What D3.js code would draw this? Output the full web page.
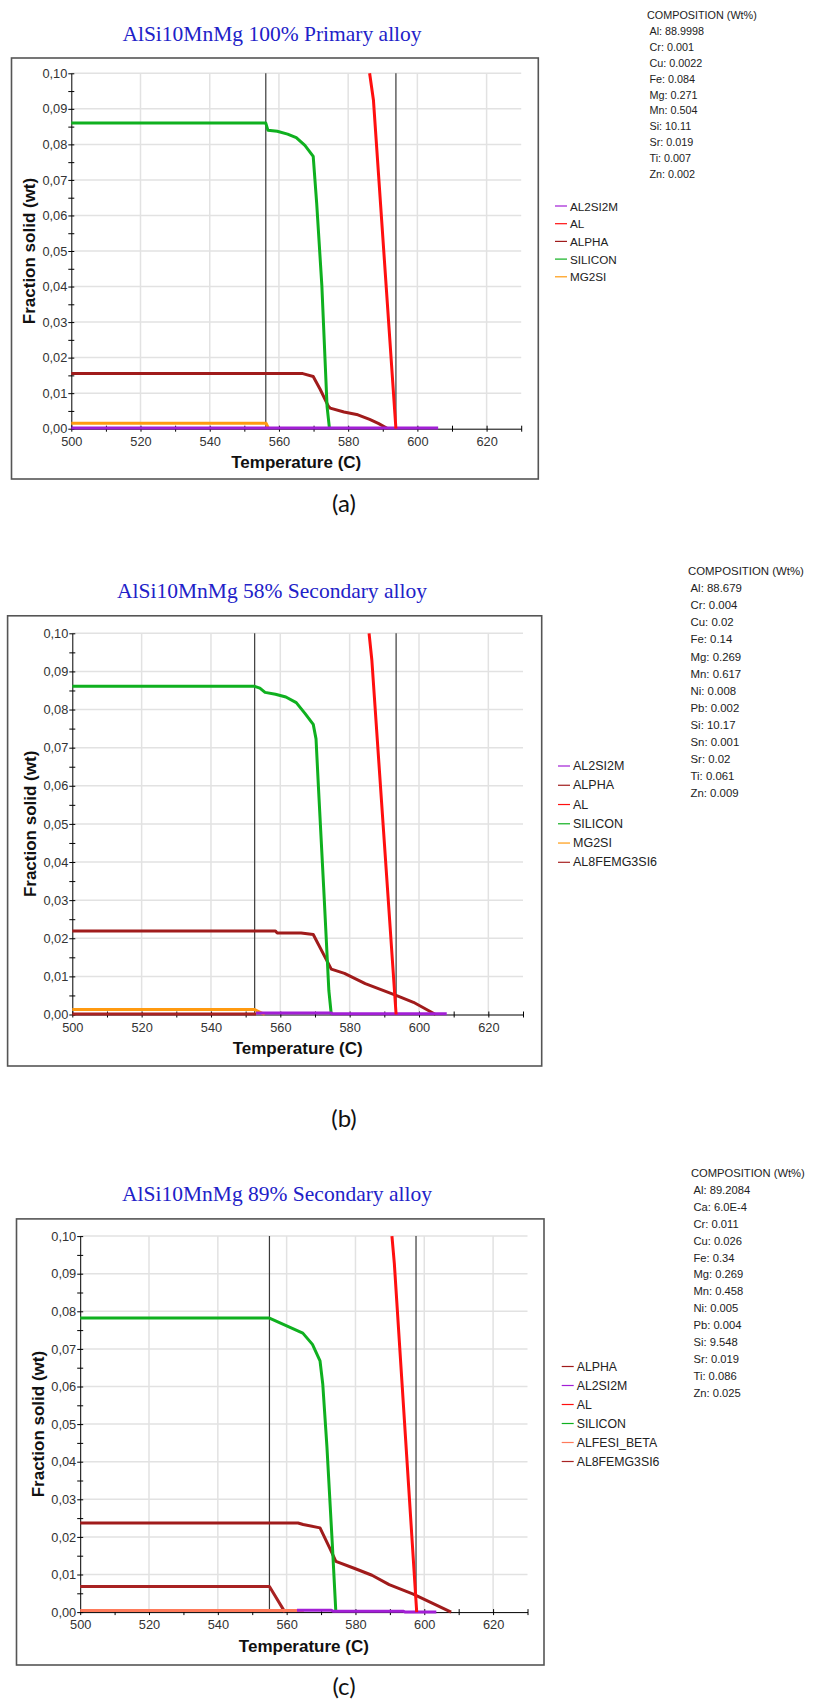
<!DOCTYPE html>
<html>
<head>
<meta charset="utf-8">
<script src="https://cdn.jsdelivr.net/npm/d3@7"></script>
<style>
  body { margin: 0; background: #fff; }
  svg text { font-family: "Liberation Sans", Arial, sans-serif; }
</style>
</head>
<body>
<script>
// ---------- shared axes ----------
var tempTicks = [500, 510, 520, 530, 540, 550, 560, 570, 580, 590, 600, 610, 620, 630];
var tempLabels = ["500", "", "520", "", "540", "", "560", "", "580", "", "600", "", "620", ""];
var fracTicks = [0, 0.005, 0.01, 0.015, 0.02, 0.025, 0.03, 0.035, 0.04, 0.045, 0.05,
                 0.055, 0.06, 0.065, 0.07, 0.075, 0.08, 0.085, 0.09, 0.095, 0.10];
var fracLabels = ["0,00", "", "0,01", "", "0,02", "", "0,03", "", "0,04", "", "0,05",
                  "", "0,06", "", "0,07", "", "0,08", "", "0,09", "", "0,10"];
var gridTemps = [520, 540, 560, 580, 600, 620];
var gridFracs = [0.01, 0.02, 0.03, 0.04, 0.05, 0.06, 0.07, 0.08, 0.09, 0.10];

var phaseColors = {
  AL2SI2M: "#a21fd6",
  AL: "#ff0f0f",
  ALPHA: "#a01b1b",
  SILICON: "#0fb01f",
  MG2SI: "#ff9a10",
  AL8FEMG3SI6: "#a82222",
  ALFESI_BETA: "#ff7a5a"
};

// ---------- (a) 100% primary ----------
var titleA = "AlSi10MnMg 100% Primary alloy";
var legendA = ["AL2SI2M", "AL", "ALPHA", "SILICON", "MG2SI"];
var compA = ["COMPOSITION (Wt%)", "Al: 88.9998", "Cr: 0.001", "Cu: 0.0022", "Fe: 0.084",
             "Mg: 0.271", "Mn: 0.504", "Si: 10.11", "Sr: 0.019", "Ti: 0.007", "Zn: 0.002"];
var markersA = [556.2, 593.8];
var siliconA = [[500, 0.086], [556.2, 0.086], [556.8, 0.084], [559.5, 0.0837], [562.5, 0.0829],
                [565, 0.0819], [567.5, 0.0797], [569.9, 0.0766], [570.9, 0.0635], [572.4, 0.0402],
                [573.9, 0.0063], [574.6, 0]];
var alA = [[586.2, 0.1], [587.3, 0.0925], [593.8, 0]];
var alphaA = [[500, 0.0155], [566.9, 0.0155], [569.9, 0.0147], [571.9, 0.0111], [574.3, 0.0063],
              [574.8, 0.0058], [578.8, 0.0047], [582.8, 0.0039], [586.2, 0.0026], [588.7, 0.0015],
              [591.5, 0]];
var mg2siA = [[500, 0.0015], [556.3, 0.0015], [557, 0]];
var al2si2mA = [[500, 0.0002], [606, 0.0002]];

// ---------- (b) 58% secondary ----------
var titleB = "AlSi10MnMg 58% Secondary alloy";
var legendB = ["AL2SI2M", "ALPHA", "AL", "SILICON", "MG2SI", "AL8FEMG3SI6"];
var compB = ["COMPOSITION (Wt%)", "Al: 88.679", "Cr: 0.004", "Cu: 0.02", "Fe: 0.14", "Mg: 0.269",
             "Mn: 0.617", "Ni: 0.008", "Pb: 0.002", "Si: 10.17", "Sn: 0.001", "Sr: 0.02",
             "Ti: 0.061", "Zn: 0.009"];
var markersB = [552.6, 593.4];
var siliconB = [[500, 0.0861], [552.6, 0.0861], [554.1, 0.0856], [555.6, 0.0845], [558.6, 0.084],
                [561.6, 0.0833], [564.6, 0.0818], [567.1, 0.079], [569.5, 0.0761], [570.3, 0.0723],
                [571, 0.0596], [572.5, 0.0334], [574, 0.0063], [574.7, 0]];
var alB = [[585.6, 0.1], [586.4, 0.093], [593.4, 0]];
var alphaB = [[500, 0.0219], [558.6, 0.0219], [559.1, 0.0214], [566, 0.0214], [569.5, 0.021],
              [573.5, 0.014], [574.7, 0.0119], [578.5, 0.0108], [584.5, 0.0081], [593.4, 0.005],
              [598.4, 0.0032], [604.8, 0]];
var mg2siB = [[500, 0.0013], [552.6, 0.0013], [555.5, 0]];
var al8B = [[500, 0.0001], [553, 0.0001]];
var al2si2mB = [[553, 0.0004], [574.7, 0.0004], [575, 0.0002], [608, 0.0002]];

// ---------- (c) 89% secondary ----------
var titleC = "AlSi10MnMg 89% Secondary alloy";
var legendC = ["ALPHA", "AL2SI2M", "AL", "SILICON", "ALFESI_BETA", "AL8FEMG3SI6"];
var compC = ["COMPOSITION (Wt%)", "Al: 89.2084", "Ca: 6.0E-4", "Cr: 0.011", "Cu: 0.026", "Fe: 0.34",
             "Mg: 0.269", "Mn: 0.458", "Ni: 0.005", "Pb: 0.004", "Si: 9.548", "Sr: 0.019",
             "Ti: 0.086", "Zn: 0.025"];
var markersC = [555.0, 597.6];
var siliconC = [[500, 0.0782], [555, 0.0782], [564.7, 0.0742], [567.5, 0.0712], [569.7, 0.0668],
                [570.5, 0.0606], [571.7, 0.0441], [573.3, 0.0176], [574.3, 0]];
var alC = [[590.6, 0.1], [591.3, 0.0927], [597.8, 0]];
var alphaC = [[500, 0.0237], [563.3, 0.0237], [564.8, 0.0233], [569.7, 0.0224], [572.7, 0.0167],
              [574.3, 0.0135], [579.8, 0.0116], [584.8, 0.0098], [589.8, 0.0073], [596.8, 0.0048],
              [607.8, 0]];
var al8C = [[500, 0.0068], [555, 0.0068], [559.5, 0]];
var alfesiC = [[500, 0.0004], [565, 0.0004]];
var al2si2mC = [[563, 0.0005], [573, 0.0005], [573.5, 0.0002], [594, 0.0002], [594.5, 0], [603.5, 0]];

// ---------- panels (layout only) ----------
var panels = [
  { title: titleA, legend: legendA, comp: compA, markers: markersA, caption: "(a)",
    series: [["ALPHA", alphaA], ["MG2SI", mg2siA], ["SILICON", siliconA], ["AL2SI2M", al2si2mA], ["AL", alA]],
    frame: [11.5, 58, 538.3, 479], px: [71.3, 521.2], py: [428.7, 73.3],
    titleY: 34, titleX: 272, legX: 555, legY: 206, legDy: 17.7, legSize: 11.7,
    compX: 647, compY: 15, compDy: 15.9, compSize: 10.8, capY: 502 },
  { title: titleB, legend: legendB, comp: compB, markers: markersB, caption: "(b)",
    series: [["AL8FEMG3SI6", al8B], ["ALPHA", alphaB], ["MG2SI", mg2siB], ["SILICON", siliconB], ["AL2SI2M", al2si2mB], ["AL", alB]],
    frame: [7.6, 615.8, 541.7, 1066], px: [72.3, 523], py: [1014.5, 633.3],
    titleY: 591, titleX: 272, legX: 558, legY: 766, legDy: 19.26, legSize: 12.5,
    compX: 688, compY: 571, compDy: 17.1, compSize: 11.4, capY: 1117 },
  { title: titleC, legend: legendC, comp: compC, markers: markersC, caption: "(c)",
    series: [["AL8FEMG3SI6", al8C], ["ALFESI_BETA", alfesiC], ["ALPHA", alphaC], ["SILICON", siliconC], ["AL2SI2M", al2si2mC], ["AL", alC]],
    frame: [16.5, 1218.9, 544, 1665], px: [80.2, 527.5], py: [1612.1, 1236.1],
    titleY: 1194, titleX: 277, legX: 561.7, legY: 1366.5, legDy: 19, legSize: 12.3,
    compX: 691, compY: 1173, compDy: 16.9, compSize: 11.2, capY: 1685 }
];

var svg = d3.select("body").append("svg")
    .attr("width", 815)
    .attr("height", 1701);

panels.forEach(function(p) {
  var g = svg.append("g");

  var x = d3.scaleLinear().domain([500, 630]).range(p.px);
  var y = d3.scaleLinear().domain([0, 0.10]).range(p.py);

  // frame
  g.append("rect")
      .attr("x", p.frame[0]).attr("y", p.frame[1])
      .attr("width", p.frame[2] - p.frame[0]).attr("height", p.frame[3] - p.frame[1])
      .style("fill", "#fff").style("stroke", "#555").style("stroke-width", 1.6);

  // title
  g.append("text")
      .attr("x", p.titleX).attr("y", p.titleY)
      .attr("text-anchor", "middle").attr("dominant-baseline", "central")
      .style("font-family", "'Liberation Serif', 'Times New Roman', serif")
      .style("font-size", "21.5px").style("fill", "#2121c8")
      .text(p.title);

  // grid
  g.append("g").selectAll("line").data(gridFracs).enter().append("line")
      .attr("x1", x(500)).attr("x2", x(630))
      .attr("y1", function(d) { return y(d); }).attr("y2", function(d) { return y(d); })
      .style("stroke", "#e2e2e2").style("stroke-width", 1.5);
  g.append("g").selectAll("line").data(gridTemps).enter().append("line")
      .attr("x1", function(d) { return x(d); }).attr("x2", function(d) { return x(d); })
      .attr("y1", y(0)).attr("y2", y(0.10))
      .style("stroke", "#e2e2e2").style("stroke-width", 1.5);

  // solidus / liquidus markers
  g.append("g").selectAll("line").data(p.markers).enter().append("line")
      .attr("x1", function(d) { return x(d); }).attr("x2", function(d) { return x(d); })
      .attr("y1", y(0)).attr("y2", y(0.10))
      .style("stroke", "#3a3a3a").style("stroke-width", 1.2);

  // axes
  var yAxis = g.append("g")
      .attr("transform", "translate(" + x(500) + ",0)")
      .call(d3.axisLeft(y).tickValues(fracTicks)
          .tickFormat(function(d, i) { return fracLabels[i]; })
          .tickSizeInner(3).tickSizeOuter(0).tickPadding(1));
  yAxis.selectAll(".tick line").attr("x1", 3);
  yAxis.selectAll("text").style("font-size", "12.8px").style("fill", "#333");

  var xAxis = g.append("g")
      .attr("transform", "translate(0," + y(0) + ")")
      .call(d3.axisBottom(x).tickValues(tempTicks)
          .tickFormat(function(d, i) { return tempLabels[i]; })
          .tickSizeInner(3).tickSizeOuter(0).tickPadding(5));
  xAxis.selectAll(".tick line").attr("y1", -3);
  xAxis.selectAll("text").style("font-size", "12.8px").style("fill", "#333");

  // phase curves
  var line = d3.line()
      .x(function(d) { return x(d[0]); })
      .y(function(d) { return y(d[1]); });
  g.append("g").selectAll("path").data(p.series).enter().append("path")
      .attr("d", function(d) { return line(d[1]); })
      .style("fill", "none")
      .style("stroke", function(d) { return phaseColors[d[0]]; })
      .style("stroke-width", 3)
      .style("stroke-linejoin", "round");

  // axis titles
  g.append("text")
      .attr("x", (p.px[0] + p.px[1]) / 2).attr("y", y(0) + 34)
      .attr("text-anchor", "middle").attr("dominant-baseline", "central")
      .style("font-size", "17px").style("font-weight", "bold").style("fill", "#111")
      .text("Temperature (C)");
  g.append("text")
      .attr("transform", "translate(" + (x(500) - 42) + "," + ((p.py[0] + p.py[1]) / 2) + ") rotate(-90)")
      .attr("text-anchor", "middle").attr("dominant-baseline", "central")
      .style("font-size", "17px").style("font-weight", "bold").style("fill", "#111")
      .text("Fraction solid (wt)");

  // legend
  var leg = g.append("g").selectAll("g").data(p.legend).enter().append("g")
      .attr("transform", function(d, i) { return "translate(" + p.legX + "," + (p.legY + i * p.legDy) + ")"; });
  leg.append("line")
      .attr("x1", 0).attr("x2", 12)
      .style("stroke", function(d) { return phaseColors[d]; })
      .style("stroke-width", 1.2);
  leg.append("text")
      .attr("x", 15).attr("dominant-baseline", "central")
      .style("font-size", p.legSize + "px").style("fill", "#222")
      .text(function(d) { return d; });

  // composition box
  g.append("g").selectAll("text").data(p.comp).enter().append("text")
      .attr("x", function(d, i) { return i === 0 ? p.compX : p.compX + 2.5; })
      .attr("y", function(d, i) { return p.compY + i * p.compDy; })
      .attr("dominant-baseline", "central")
      .style("font-size", p.compSize + "px").style("fill", "#222")
      .text(function(d) { return d; });

  // caption
  g.append("text")
      .attr("x", 344).attr("y", p.capY)
      .attr("text-anchor", "middle").attr("dominant-baseline", "central")
      .style("font-family", "Lato, 'Open Sans', sans-serif")
      .style("font-size", "24px").style("fill", "#111")
      .text(p.caption);
});
</script>
</body>
</html>
